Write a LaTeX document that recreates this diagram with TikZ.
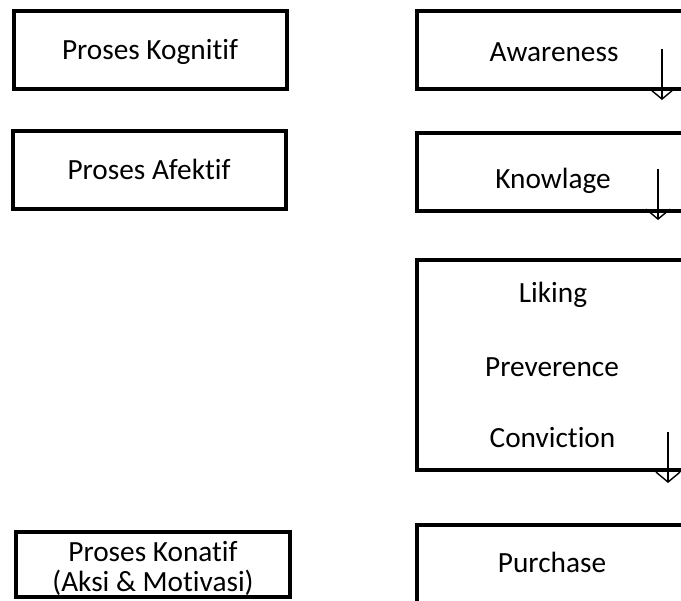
\documentclass[tikz,border=0pt]{standalone}
\usepackage{fontspec}
\setmainfont{Carlito}[Ligatures=NoCommon]
\usetikzlibrary{arrows.meta}
\begin{document}
\begin{tikzpicture}[x=1pt,y=-1pt,
  boxshape/.style={draw=black, line width=4pt, rectangle, inner sep=0pt, outer sep=0pt},
  lbl/.style={anchor=base, inner sep=0pt, font=\fontsize{29.3}{30}\selectfont},
  flow/.style={line width=1.4pt, -{Straight Barb[length=10pt,width=24pt,line width=1.4pt]}}]
\useasboundingbox (0,0) rectangle (681,601);
\fill[white] (0,0) rectangle (681,601);
\clip (0,0) rectangle (681,601);
% left column
\node[boxshape, minimum width=273pt, minimum height=78pt] (kog) at (150.5,50) {};
\node[lbl] (tkog) at (150,60) {Proses Kognitif};
\node[boxshape, minimum width=273pt, minimum height=78pt] (afe) at (149.5,170) {};
\node[lbl] (tafe) at (149,180) {Proses Afektif};
\node[boxshape, minimum width=274pt, minimum height=65pt] (kon) at (153,564.5) {};
\node[lbl] (tkon1) at (153,562) {Proses Konatif};
\node[lbl] (tkon2) at (153,592) {(Aksi \& Motivasi)};
% right column
\node[boxshape, minimum width=274pt, minimum height=78pt] (awa) at (554,50) {};
\node[lbl] (tawa) at (554,62) {Awareness};
\node[boxshape, minimum width=274pt, minimum height=78pt] (kno) at (554,172) {};
\node[lbl] (tkno) at (553,189) {Knowlage};
\node[boxshape, minimum width=274pt, minimum height=210pt] (lik) at (554,365) {};
\node[lbl] (tlik) at (553,303) {Liking};
\node[lbl] (tpre) at (552,377) {Preverence};
\node[lbl] (tcon) at (552.5,448) {Conviction};
\node[boxshape, minimum width=274pt, minimum height=90pt] (pur) at (554,570) {};
\node[lbl] (tpur) at (552,573) {Purchase};
% arrows
\coordinate (a1s) at (662,49);
\coordinate (a1e) at (662,100);
\coordinate (a2s) at (658,169);
\coordinate (a2e) at (658,220);
\coordinate (a3s) at (668,432);
\coordinate (a3e) at (668,483);
\draw[flow] (a1s) -- (a1e);
\draw[flow] (a2s) -- (a2e);
\draw[flow] (a3s) -- (a3e);
\end{tikzpicture}
\end{document}
